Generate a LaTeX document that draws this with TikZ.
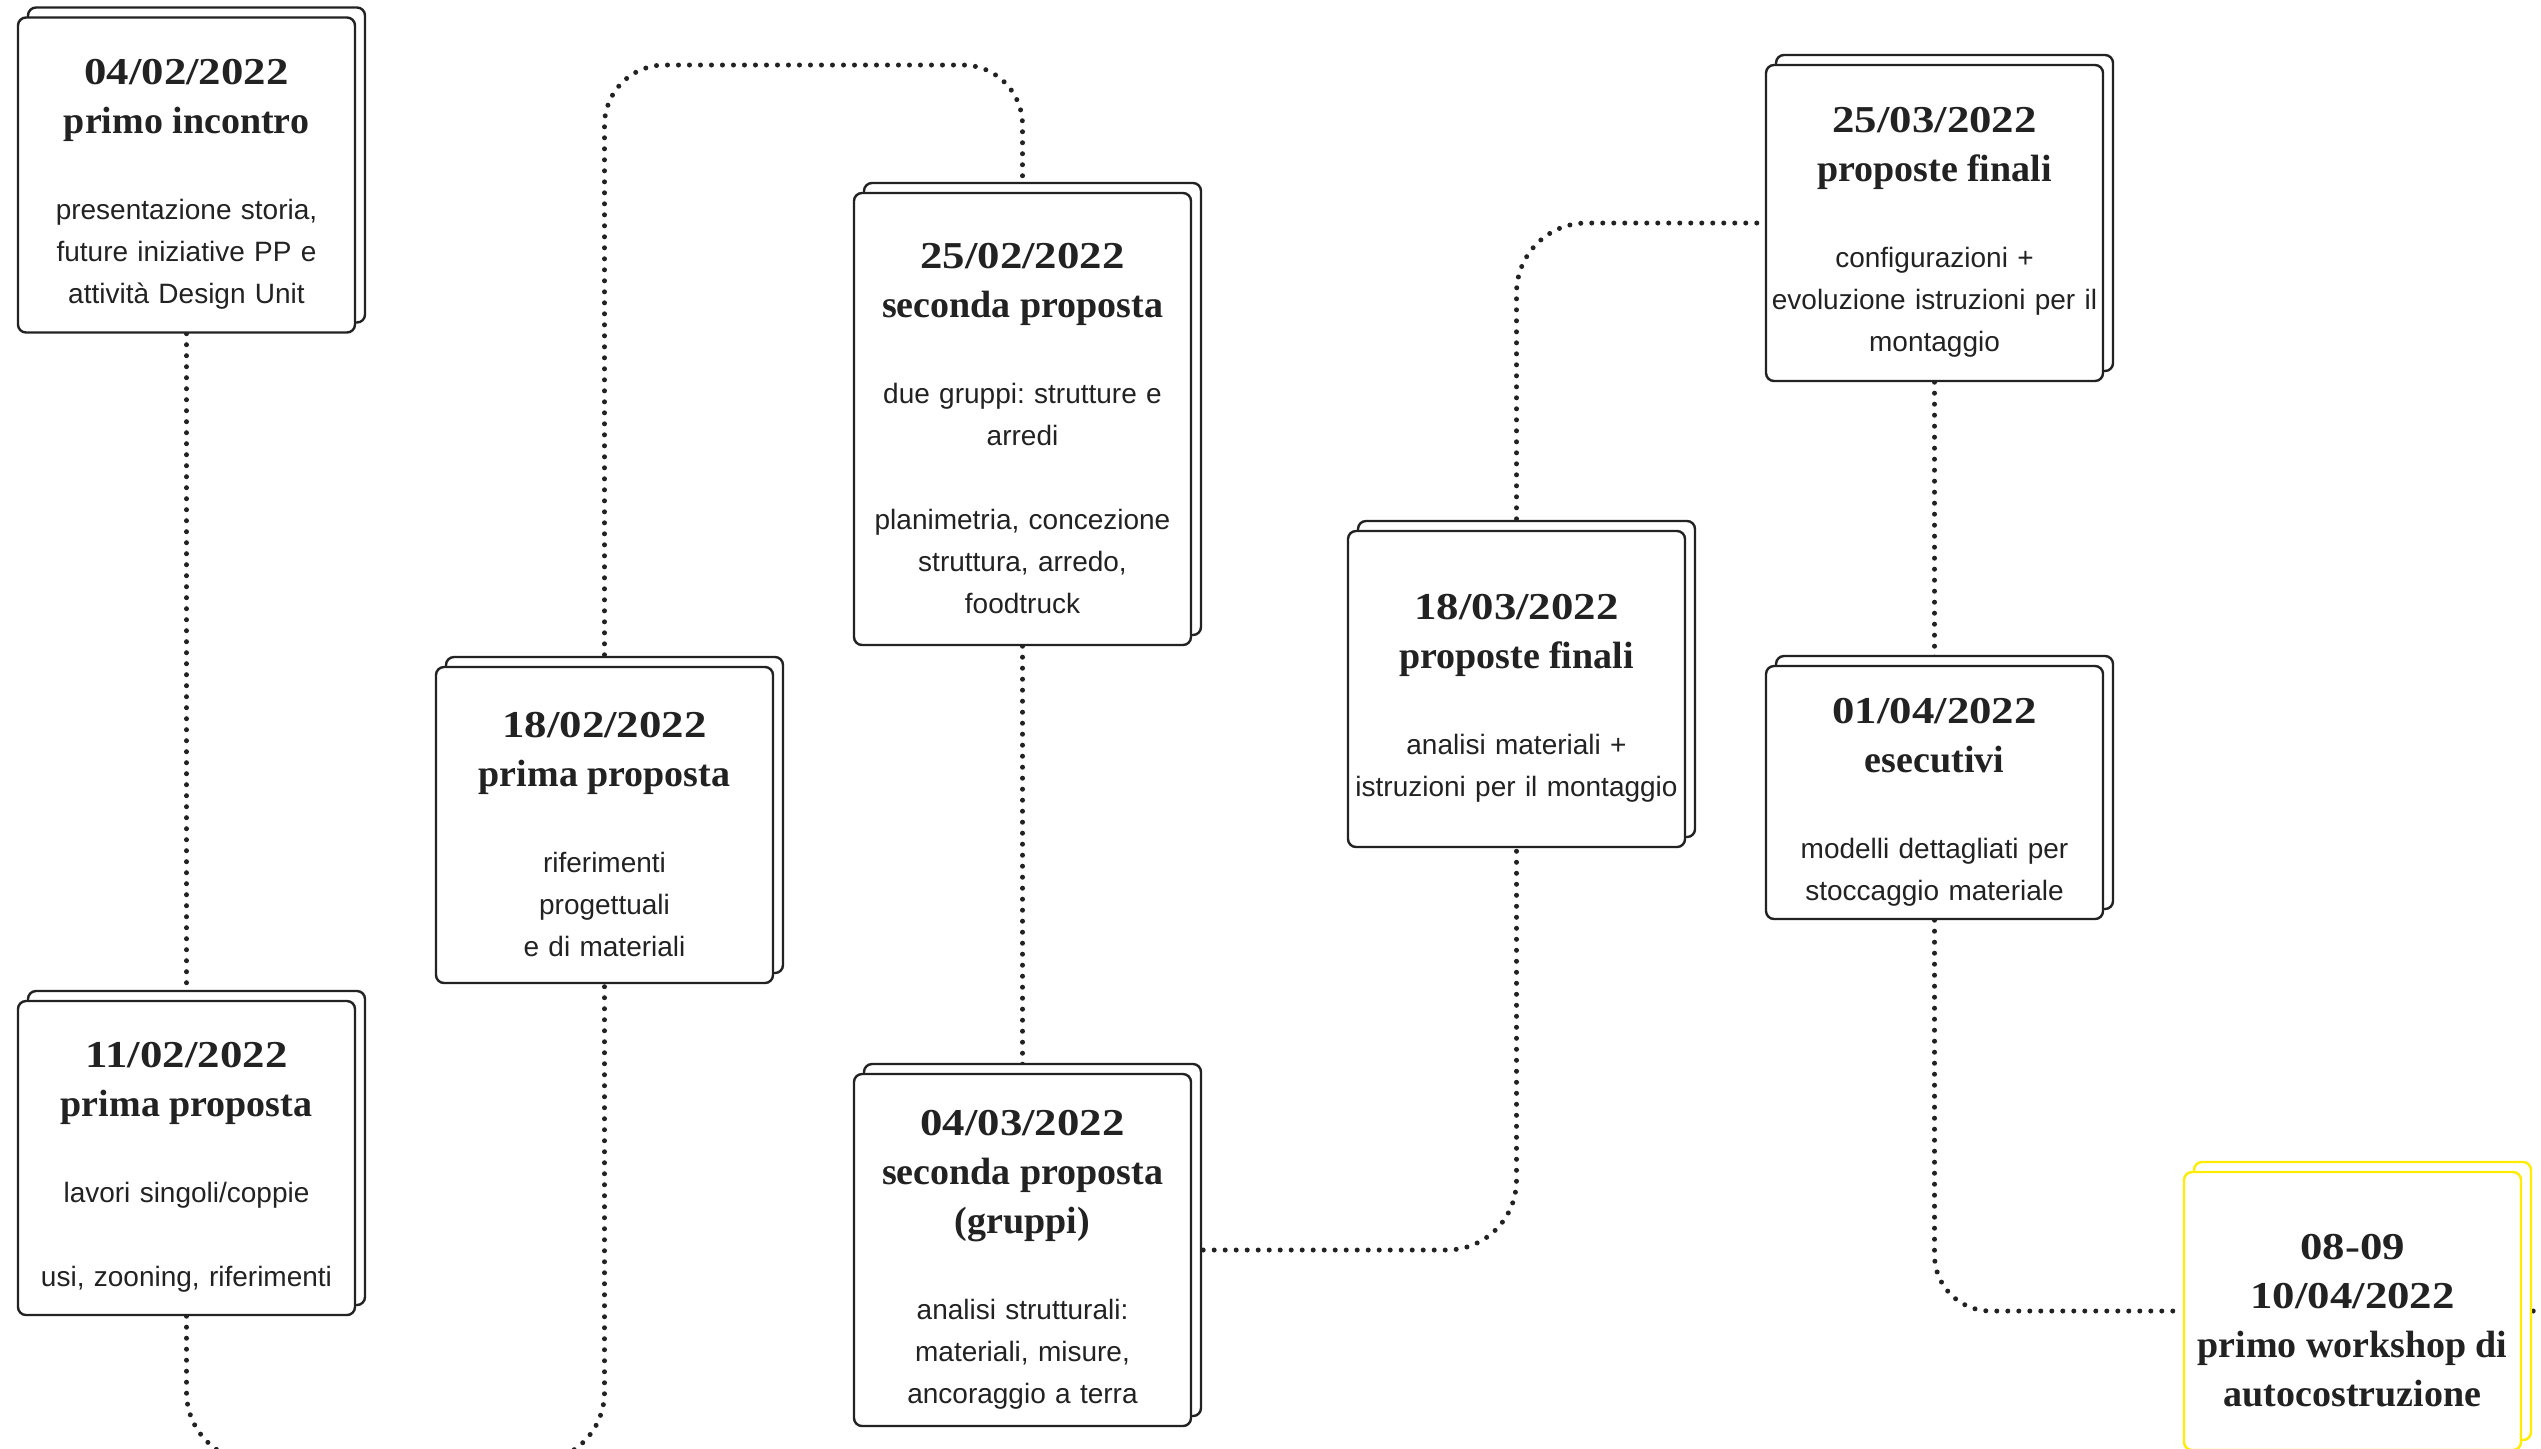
\documentclass[tikz,border=0pt]{standalone}
\usepackage{graphicx}
\usepackage{fontspec}
\setmainfont{Liberation Serif}
\setsansfont{Liberation Sans}
\usetikzlibrary{shadows,backgrounds}
\frenchspacing

\definecolor{ink}{RGB}{34,34,34}
\definecolor{workshopyellow}{RGB}{255,236,0}

\newcommand{\cardtop}{\par\vspace*{-2.5pt}}
\newcommand{\cardhead}[1]{{\rmfamily\bfseries\fontsize{19pt}{24.5pt}\selectfont #1\par}\vspace{22pt}}
\newcommand{\carddate}[1]{\leavevmode\scalebox{1.18}[1]{#1}}

\begin{document}
\begin{tikzpicture}[x=0.5pt,y=-0.5pt,
    cardbase/.style={line width=1.2pt, fill=white, rounded corners=4pt,
        minimum width=168.5pt, text width=166pt, align=center, inner sep=0pt,
        font=\sffamily\fontsize{14pt}{21pt}\selectfont, text=ink,
        execute at begin node=\cardtop},
    card/.style={cardbase, draw=ink,
        copy shadow={shadow xshift=5pt, shadow yshift=5pt, draw=ink, line width=1.2pt, fill=white}},
    yellowcard/.style={cardbase, draw=workshopyellow,
        copy shadow={shadow xshift=5pt, shadow yshift=5pt, draw=workshopyellow, line width=1.2pt, fill=white}},
    dotline/.style={draw=ink, line width=2.5pt, line cap=round, dash pattern=on 0pt off 5.5pt}]
    \useasboundingbox (0,0) rectangle (2541,1448);
    
    %Shape: Card 04/02
    \node[card, minimum height=157.5pt] (incontro) at (186.5,175)
        {\cardhead{\carddate{04/02/2022}\\primo incontro}presentazione storia,\\future iniziative PP e\\attività Design Unit};
    
    %Shape: Card 11/02
    \node[card, minimum height=157pt] (primaA) at (186.5,1158)
        {\cardhead{\carddate{11/02/2022}\\prima proposta}lavori singoli/coppie\\[21pt]usi, zooning, riferimenti};
    
    %Shape: Card 18/02
    \node[card, minimum height=158pt] (primaB) at (604.5,825)
        {\cardhead{\carddate{18/02/2022}\\prima proposta}riferimenti\\progettuali\\e di materiali};
    
    %Shape: Card 25/02
    \node[card, minimum height=226pt] (secondaA) at (1022.5,419)
        {\cardhead{\carddate{25/02/2022}\\seconda proposta}due gruppi: strutture e\\arredi\\[21pt]planimetria, concezione\\struttura, arredo,\\foodtruck};
    
    %Shape: Card 04/03
    \node[card, minimum height=176pt] (secondaB) at (1022.5,1250)
        {\cardhead{\carddate{04/03/2022}\\seconda proposta\\(gruppi)}analisi strutturali:\\materiali, misure,\\ancoraggio a terra};
    
    %Shape: Card 18/03
    \node[card, minimum height=158pt] (finaliA) at (1516.5,689)
        {\cardhead{\carddate{18/03/2022}\\proposte finali}analisi materiali +\\istruzioni per il montaggio};
    
    %Shape: Card 25/03
    \node[card, minimum height=158pt] (finaliB) at (1934.5,223)
        {\cardhead{\carddate{25/03/2022}\\proposte finali}configurazioni +\\evoluzione istruzioni per il\\montaggio};
    
    %Shape: Card 01/04
    \node[card, minimum height=126.5pt] (esecutivi) at (1934.5,792.5)
        {\cardhead{\carddate{01/04/2022}\\esecutivi}modelli dettagliati per\\stoccaggio materiale};
    
    %Shape: Card workshop
    \node[yellowcard, minimum height=139pt] (workshop) at (2352.5,1311)
        {\rmfamily\bfseries\fontsize{19pt}{24.5pt}\selectfont \carddate{08-09}\\\carddate{10/04/2022}\\primo workshop di\\autocostruzione\par};
    
    
    \begin{pgfonlayer}{background}
    \fill[white] (0,0) rectangle (2541,1448);
    \coordinate (toprun) at (0,65);
    \coordinate (bottomrun) at (0,1462);
    
    %Dotted Lines
    \draw[dotline] (incontro.south) -- (primaA.north);
    \draw[dotline, rounded corners=35pt] (primaA.south) -- (primaA.south |- bottomrun) -- (primaB.south |- bottomrun) -- (primaB.south);
    \draw[dotline, rounded corners=30pt] (primaB.north) -- (primaB.north |- toprun) -- (secondaA.north |- toprun) -- (secondaA.north);
    \draw[dotline] (secondaA.south) -- (secondaB.north);
    \draw[dotline, rounded corners=35pt] (secondaB.east) -- (finaliA.south |- secondaB.east) -- (finaliA.south);
    \draw[dotline, rounded corners=35pt] (finaliA.north) -- (finaliA.north |- finaliB.west) -- (finaliB.west);
    \draw[dotline] (finaliB.south) -- (esecutivi.north);
    \draw[dotline, rounded corners=28pt] (esecutivi.south) -- (esecutivi.south |- workshop.west) -- (workshop.west);
    \draw[dotline] (workshop.east) -- ++(30,0);
    \end{pgfonlayer}
    
\end{tikzpicture}
\end{document}
